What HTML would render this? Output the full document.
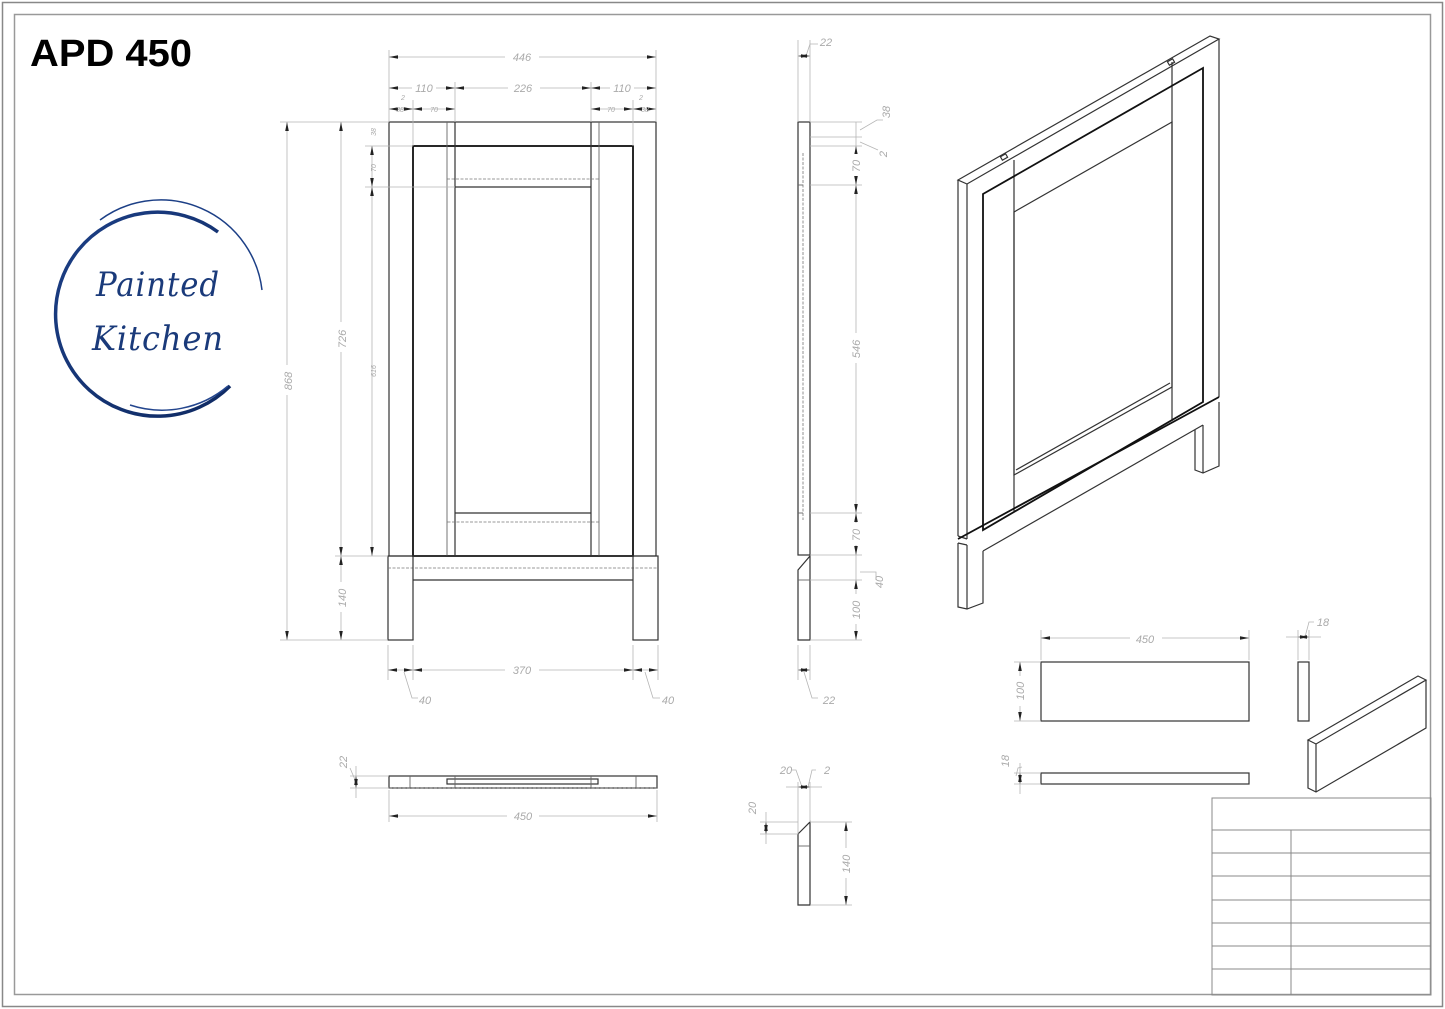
<!DOCTYPE html>
<html><head><meta charset="utf-8"><style>
html,body{margin:0;padding:0;background:#fff;}
svg{display:block}
.d{stroke:#b5b5b5;stroke-width:0.8;fill:none}
.a{stroke:#b5b5b5;stroke-width:0.8;fill:none;marker-start:url(#ar);marker-end:url(#ar)}
.t{font-family:"Liberation Sans",sans-serif;font-size:11px;fill:#aaa;font-style:italic}
.k{stroke:#333;stroke-width:1.2;fill:none}
.kk{stroke:#111;stroke-width:1.8;fill:none}
.h{stroke:#777;stroke-width:0.8;fill:none;stroke-dasharray:3 1.5}
.g{stroke:#666;stroke-width:0.9;fill:none}
</style></head><body>
<svg width="1445" height="1009" viewBox="0 0 1445 1009" xmlns="http://www.w3.org/2000/svg">
<defs>
<marker id="ar" viewBox="0 0 10 4" refX="10" refY="2" markerWidth="9" markerHeight="4" orient="auto-start-reverse" markerUnits="userSpaceOnUse"><path d="M0,0 L10,2 L0,4 Z" fill="#222"/></marker>
<linearGradient id="lg" x1="0" y1="0" x2="1" y2="1"><stop offset="0" stop-color="#1c3f86"/><stop offset="1" stop-color="#0f2a63"/></linearGradient>
</defs>
<rect x="2.5" y="2.5" width="1440" height="1004" fill="none" stroke="#888" stroke-width="1.5"/>
<rect x="14.5" y="14.5" width="1416" height="980" fill="none" stroke="#999" stroke-width="1.5"/>
<text x="30" y="66" font-family="Liberation Sans, sans-serif" font-weight="bold" font-size="38" fill="#000" textLength="162" lengthAdjust="spacingAndGlyphs">APD 450</text>

<!-- Logo -->
<path d="M218,232 A102,102 0 1 0 230,386" fill="none" stroke="url(#lg)" stroke-width="3.5"/>
<path d="M228,386 A102,102 0 0 1 130,405" fill="none" stroke="#24468e" stroke-width="1.5"/>
<path d="M100,220 A102,102 0 0 1 262,290" fill="none" stroke="#1c3f86" stroke-width="1.5"/>
<text x="96" y="296" font-family="DejaVu Serif, serif" font-style="italic" font-size="34" fill="#1a3a7a" font-weight="200" letter-spacing="1" textLength="124" lengthAdjust="spacingAndGlyphs">Painted</text>
<text x="92" y="350" font-family="DejaVu Serif, serif" font-style="italic" font-size="34" fill="#1a3a7a" font-weight="200" letter-spacing="1" textLength="132" lengthAdjust="spacingAndGlyphs">Kitchen</text>

<!-- Front view -->
<g>
<rect x="389" y="122" width="267" height="434" class="k"/>
<rect x="413" y="146" width="220" height="410" class="kk"/>
<line x1="455" y1="122" x2="455" y2="556" class="k"/>
<line x1="591" y1="122" x2="591" y2="556" class="k"/>
<line x1="447" y1="122" x2="447" y2="556" class="g"/>
<line x1="599" y1="122" x2="599" y2="556" class="g"/>
<line x1="455" y1="187" x2="591" y2="187" class="k"/>
<rect x="447" y="179" width="152" height="343" class="h"/>
<line x1="455" y1="513" x2="591" y2="513" class="k"/>
<rect x="388" y="556" width="270" height="84" class="k" fill="none"/>
<line x1="388" y1="568" x2="658" y2="568" class="h"/>
<line x1="413" y1="580" x2="633" y2="580" class="k"/>
<rect x="413.6" y="581" width="218.8" height="60" fill="#fff"/>
<line x1="413" y1="556" x2="413" y2="640" class="k"/>
<line x1="633" y1="556" x2="633" y2="640" class="k"/>
</g>
<!-- Front dims -->
<g class="d">
<line x1="389" y1="50" x2="389" y2="122"/><line x1="656" y1="50" x2="656" y2="122"/>
<line x1="455" y1="82" x2="455" y2="122"/><line x1="591" y1="82" x2="591" y2="122"/>
<line x1="413" y1="100" x2="413" y2="146"/><line x1="633" y1="100" x2="633" y2="146"/>
<line x1="280" y1="122" x2="389" y2="122"/><line x1="280" y1="640" x2="388" y2="640"/>
<line x1="335" y1="556" x2="388" y2="556"/>
<line x1="365" y1="146" x2="413" y2="146"/><line x1="365" y1="187" x2="455" y2="187"/>
<line x1="388" y1="645" x2="388" y2="680"/><line x1="413" y1="645" x2="413" y2="680"/>
<line x1="633" y1="645" x2="633" y2="680"/><line x1="658" y1="645" x2="658" y2="680"/>
<polyline points="404,672 412,698 418,698"/><polyline points="645,672 653,698 660,698"/>
</g>
<g class="a">
<line x1="389" y1="57" x2="656" y2="57"/>
<line x1="389" y1="88" x2="455" y2="88"/><line x1="455" y1="88" x2="591" y2="88"/><line x1="591" y1="88" x2="656" y2="88"/>
<line x1="389" y1="109" x2="413" y2="109"/><line x1="413" y1="109" x2="455" y2="109"/>
<line x1="591" y1="109" x2="633" y2="109"/><line x1="633" y1="109" x2="656" y2="109"/>
<line x1="287" y1="122" x2="287" y2="640"/>
<line x1="341" y1="122" x2="341" y2="556"/><line x1="341" y1="556" x2="341" y2="640"/>
<line x1="372" y1="187" x2="372" y2="556"/><line x1="372" y1="146" x2="372" y2="187"/>
<line x1="413" y1="670" x2="633" y2="670"/>
<line x1="388" y1="670" x2="413" y2="670"/>
<line x1="633" y1="670" x2="658" y2="670"/>
</g>
<g class="t" text-anchor="middle">
<rect x="505" y="50" width="34" height="14" fill="#fff" stroke="none"/><text x="522" y="61">446</text>
<rect x="412" y="81" width="24" height="14" fill="#fff" stroke="none"/><text x="424" y="92">110</text>
<rect x="508" y="81" width="32" height="14" fill="#fff" stroke="none"/><text x="523" y="92">226</text>
<rect x="610" y="81" width="24" height="14" fill="#fff" stroke="none"/><text x="622" y="92">110</text>
<text x="400" y="112" font-size="7">38</text><text x="434" y="112" font-size="7">70</text>
<text x="611" y="112" font-size="7">70</text><text x="645" y="112" font-size="7">38</text>
<text x="403" y="100" font-size="7">2</text><text x="641" y="100" font-size="7">2</text>
<rect x="505" y="663" width="34" height="14" fill="#fff" stroke="none"/><text x="522" y="674">370</text>
<text x="425" y="704">40</text><text x="668" y="704">40</text>
<rect x="281" y="365" width="12" height="30" fill="#fff" stroke="none"/><text transform="translate(292,381) rotate(-90)">868</text>
<rect x="335" y="322" width="12" height="30" fill="#fff" stroke="none"/><text transform="translate(346,339) rotate(-90)">726</text>
<rect x="335" y="582" width="12" height="30" fill="#fff" stroke="none"/><text transform="translate(346,598) rotate(-90)">140</text>
<text transform="translate(376,371) rotate(-90)" font-size="7">616</text>
<text transform="translate(376,168) rotate(-90)" font-size="7">70</text>
<text transform="translate(376,132) rotate(-90)" font-size="7">38</text>
</g>

<!-- Side view -->
<g>
<rect x="798" y="122" width="12" height="433" class="k"/>
<line x1="803" y1="153" x2="803" y2="520" class="h"/>
<line x1="798" y1="185" x2="803" y2="185" class="g"/>
<line x1="798" y1="513" x2="803" y2="513" class="g"/>
<polygon points="798,570 810,556 810,640 798,640" class="k"/>
<line x1="798" y1="580" x2="810" y2="580" class="g"/>
</g>
<g class="d">
<line x1="798" y1="40" x2="798" y2="122"/><line x1="810" y1="40" x2="810" y2="122"/>
<polyline points="806,56 810,44 818,44"/>
<line x1="810" y1="122" x2="862" y2="122"/><line x1="810" y1="137" x2="862" y2="137"/>
<line x1="810" y1="146" x2="862" y2="146"/><line x1="810" y1="185" x2="862" y2="185"/>
<line x1="810" y1="513" x2="862" y2="513"/><line x1="810" y1="555" x2="862" y2="555"/>
<line x1="810" y1="580" x2="862" y2="580"/><line x1="810" y1="640" x2="862" y2="640"/>
<polyline points="860,130 877,120 883,120"/><polyline points="860,142 878,150"/>
<polyline points="860,572 876,572 876,580"/>
<line x1="798" y1="645" x2="798" y2="680"/><line x1="810" y1="645" x2="810" y2="680"/>
<polyline points="804,672 812,698 818,698"/>
</g>
<g class="a">
<line x1="798" y1="56" x2="810" y2="56"/>
<line x1="856" y1="185" x2="856" y2="513"/>
<line x1="856" y1="146" x2="856" y2="185"/>
<line x1="856" y1="513" x2="856" y2="555"/>
<line x1="856" y1="580" x2="856" y2="640"/>
<line x1="798" y1="670" x2="810" y2="670"/>
</g>
<line x1="856" y1="122" x2="856" y2="146" class="d"/><line x1="856" y1="555" x2="856" y2="580" class="d"/>
<g class="t" text-anchor="middle">
<text x="826" y="46">22</text>
<text transform="translate(890,112) rotate(-90)">38</text>
<text transform="translate(887,154) rotate(-90)">2</text>
<rect x="850" y="154" width="12" height="22" fill="#fff" stroke="none"/><text transform="translate(860,166) rotate(-90)">70</text>
<rect x="850" y="333" width="12" height="30" fill="#fff" stroke="none"/><text transform="translate(860,349) rotate(-90)">546</text>
<rect x="850" y="523" width="12" height="22" fill="#fff" stroke="none"/><text transform="translate(860,535) rotate(-90)">70</text>
<text transform="translate(883,582) rotate(-90)">40</text>
<rect x="850" y="594" width="12" height="30" fill="#fff" stroke="none"/><text transform="translate(860,610) rotate(-90)">100</text>
<text x="829" y="704">22</text>
</g>

<!-- Iso view -->
<g class="k" stroke-width="1">
<polygon points="958,180 1210,36 1219,39 967,184"/>
<line x1="958" y1="180" x2="958" y2="536"/>
<line x1="967" y1="184" x2="967" y2="539"/>
<line x1="1219" y1="39" x2="1219" y2="397"/>
<line x1="958" y1="536" x2="967" y2="539"/>
<line x1="1014" y1="160" x2="1014" y2="511"/>
<line x1="1172" y1="62" x2="1172" y2="421"/>
<polygon points="1014,212 1172,122 1172,387 1014,475"/>
<line x1="1016" y1="470" x2="1170" y2="383"/>
<line x1="983" y1="551" x2="1203" y2="425"/>
<polyline points="958,543 958,607 967,609 983,603 983,551"/>
<line x1="967" y1="545" x2="967" y2="609"/>
<line x1="958" y1="543" x2="967" y2="545"/>
<polyline points="1195,430 1195,470 1203,473 1219,466 1219,402"/>
<line x1="1203" y1="425" x2="1203" y2="473"/>
<rect x="1001" y="155" width="6" height="4" transform="rotate(-30 1004 157)"/>
<rect x="1168" y="60" width="6" height="4" transform="rotate(-30 1171 62)"/>
</g>
<polygon points="983,194 1203,68 1203,402 983,530" class="kk"/>
<line x1="958" y1="539" x2="1219" y2="397" class="kk"/>

<!-- Plan view bottom -->
<g>
<rect x="389" y="776" width="268" height="12" class="k"/>
<rect x="447" y="779" width="151" height="5" class="k"/>
<line x1="389" y1="788" x2="657" y2="788" class="h"/>
<line x1="410" y1="776" x2="410" y2="788" class="g"/><line x1="636" y1="776" x2="636" y2="788" class="g"/>
<line x1="455" y1="776" x2="455" y2="788" class="g"/><line x1="591" y1="776" x2="591" y2="788" class="g"/>
</g>
<g class="d">
<line x1="389" y1="790" x2="389" y2="822"/><line x1="657" y1="790" x2="657" y2="822"/>
<line x1="350" y1="776" x2="389" y2="776"/><line x1="350" y1="788" x2="389" y2="788"/>
<polyline points="356,782 350,768"/>
<line x1="356" y1="766" x2="356" y2="798"/>
</g>
<g class="a">
<line x1="389" y1="816" x2="657" y2="816"/>
<line x1="356" y1="776" x2="356" y2="788"/>
</g>
<g class="t" text-anchor="middle">
<rect x="507" y="809" width="32" height="14" fill="#fff" stroke="none"/><text x="523" y="820">450</text>
<text transform="translate(347,762) rotate(-90)">22</text>
</g>

<!-- small section -->
<polygon points="798,834 810,822 810,905 798,905" class="k"/>
<line x1="798" y1="846" x2="810" y2="846" class="g"/>
<g class="d">
<line x1="798" y1="782" x2="798" y2="834"/><line x1="810" y1="782" x2="810" y2="822"/>
<polyline points="802,787 796,770 792,770"/><polyline points="808,787 812,770 816,770"/>
<line x1="760" y1="822" x2="798" y2="822"/><line x1="760" y1="834" x2="798" y2="834"/>
<line x1="810" y1="822" x2="852" y2="822"/><line x1="810" y1="905" x2="852" y2="905"/>
<line x1="786" y1="787" x2="822" y2="787"/>
<line x1="766" y1="812" x2="766" y2="844"/>
</g>
<g class="a">
<line x1="798" y1="787" x2="810" y2="787"/>
<line x1="766" y1="822" x2="766" y2="834"/>
<line x1="846" y1="822" x2="846" y2="905"/>
</g>
<g class="t" text-anchor="middle">
<text x="786" y="774">20</text><text x="827" y="774">2</text>
<text transform="translate(756,808) rotate(-90)">20</text>
<rect x="840" y="848" width="12" height="30" fill="#fff" stroke="none"/><text transform="translate(850,864) rotate(-90)">140</text>
</g>

<!-- Parts right -->
<g class="k">
<rect x="1041" y="662" width="208" height="59"/>
<rect x="1041" y="773" width="208" height="11"/>
<rect x="1298" y="662" width="11" height="59"/>
<polygon points="1308,740 1418,676 1426,680 1316,744"/>
<polyline points="1308,740 1308,788 1316,792 1426,728 1426,680"/>
<line x1="1316" y1="744" x2="1316" y2="792"/>
</g>
<g class="d">
<line x1="1041" y1="630" x2="1041" y2="660"/><line x1="1249" y1="630" x2="1249" y2="660"/>
<line x1="1014" y1="662" x2="1041" y2="662"/><line x1="1014" y1="721" x2="1041" y2="721"/>
<line x1="1014" y1="773" x2="1041" y2="773"/><line x1="1014" y1="784" x2="1041" y2="784"/>
<polyline points="1016,776 1018,768 1022,767"/>
<line x1="1298" y1="630" x2="1298" y2="660"/><line x1="1309" y1="630" x2="1309" y2="660"/>
<polyline points="1305,637 1309,622 1314,622"/>
<line x1="1020" y1="763" x2="1020" y2="794"/>
<line x1="1286" y1="637" x2="1321" y2="637"/>
</g>
<g class="a">
<line x1="1041" y1="638" x2="1249" y2="638"/>
<line x1="1020" y1="662" x2="1020" y2="721"/>
<line x1="1020" y1="773" x2="1020" y2="784"/>
<line x1="1298" y1="637" x2="1309" y2="637"/>
</g>
<g class="t" text-anchor="middle">
<rect x="1130" y="632" width="32" height="14" fill="#fff" stroke="none"/><text x="1145" y="643">450</text>
<rect x="1014" y="676" width="12" height="30" fill="#fff" stroke="none"/><text transform="translate(1024,691) rotate(-90)">100</text>
<text transform="translate(1009,761) rotate(-90)">18</text>
<text x="1323" y="626">18</text>
</g>

<!-- Title block -->
<g stroke="#888" stroke-width="1" fill="none">
<rect x="1212" y="798" width="219" height="197"/>
<line x1="1212" y1="830" x2="1431" y2="830"/>
<line x1="1212" y1="853" x2="1431" y2="853"/>
<line x1="1212" y1="876" x2="1431" y2="876"/>
<line x1="1212" y1="900" x2="1431" y2="900"/>
<line x1="1212" y1="923" x2="1431" y2="923"/>
<line x1="1212" y1="946" x2="1431" y2="946"/>
<line x1="1212" y1="969" x2="1431" y2="969"/>
<line x1="1291" y1="830" x2="1291" y2="995"/>
</g>
</svg>
</body></html>
